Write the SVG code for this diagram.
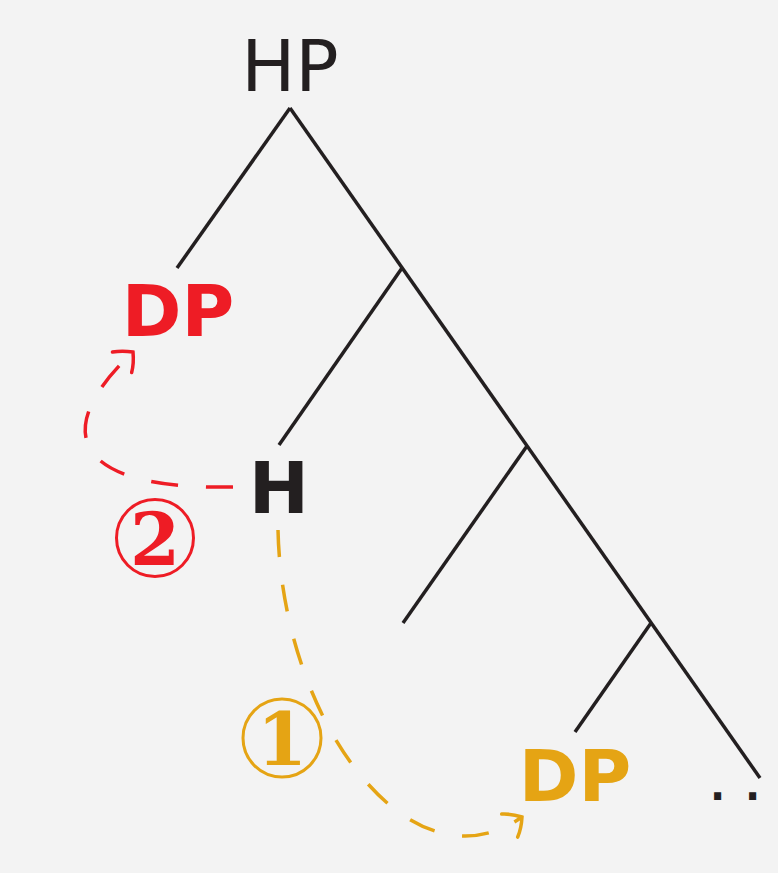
<svg xmlns="http://www.w3.org/2000/svg" width="778" height="873" viewBox="0 0 778 873">
  <style>
    .edge { fill: none; stroke: #231f20; stroke-width: 3.5; stroke-linecap: butt; }
    .move { fill: none; stroke-width: 3.5; stroke-dasharray: 27 28; }
    .red { stroke: #ee1c25; }
    .gold { stroke: #e5a414; }
    .lbl { font-family: "DejaVu Sans", "Liberation Sans", sans-serif; font-size: 72px; text-anchor: middle; }
    .bold { font-weight: bold; }
    .num { font-family: "DejaVu Serif", "Liberation Serif", serif; font-weight: bold; font-size: 72px; text-anchor: middle; }
  </style>
  <defs>
    <marker id="tipRed" markerUnits="userSpaceOnUse" markerWidth="40" markerHeight="40" viewBox="-20 -20 40 40" refX="0" refY="0" orient="auto" overflow="visible">
      <path d="M-15,-14 Q-7,-9 0,0 Q-7,9 -15,14" fill="none" stroke="#ee1c25" stroke-width="3.5" stroke-linecap="round"/>
    </marker>
    <marker id="tipGold" markerUnits="userSpaceOnUse" markerWidth="40" markerHeight="40" viewBox="-20 -20 40 40" refX="0" refY="0" orient="auto" overflow="visible">
      <path d="M-15,-14 Q-7,-9 0,0 Q-7,9 -15,14" fill="none" stroke="#e5a414" stroke-width="3.5" stroke-linecap="round"/>
    </marker>
  </defs>

  <rect width="778" height="873" fill="#f3f3f3"/>

  <!-- tree branches -->
  <g id="edges">
    <path class="edge" d="M290,108 L177,268"/>
    <path class="edge" d="M290,108 L760,778"/>
    <path class="edge" d="M402,268 L279,445"/>
    <path class="edge" d="M527,446 L403,623"/>
    <path class="edge" d="M651,623 L575,732"/>
  </g>

  <!-- movement arrows -->
  <g id="movements">
    <path class="move gold" d="M278,530 C282,720 410,895 522,817" marker-end="url(#tipGold)"/>
    <path class="move red" d="M233,487 C70,490 50,430 133,352" marker-end="url(#tipRed)"/>
  </g>

  <g id="node-hp">
    <text class="lbl" x="290" y="91" fill="#231f20">HP</text>
  </g>
  <g id="node-dp-spec">
    <text class="lbl bold" x="178" y="336" fill="#ee1c25">DP</text>
  </g>
  <g id="node-h">
    <text class="lbl bold" x="279" y="513" fill="#231f20">H</text>
  </g>
  <g id="node-dp-comp">
    <text class="lbl bold" x="575" y="801" fill="#e5a414">DP</text>
  </g>
  <g id="node-dots">
    <text x="710 745" y="800" font-family="DejaVu Sans" font-weight="bold" font-size="40" fill="#231f20">..</text>
  </g>

  <g id="step-2">
    <circle cx="155" cy="538" r="38.5" fill="none" stroke="#ee1c25" stroke-width="3"/>
    <text class="num" x="155" y="565" fill="#ee1c25">2</text>
  </g>
  <g id="step-1">
    <circle cx="282" cy="738" r="39" fill="none" stroke="#e5a414" stroke-width="3"/>
    <text class="num" x="282" y="765" fill="#e5a414">1</text>
  </g>
</svg>
